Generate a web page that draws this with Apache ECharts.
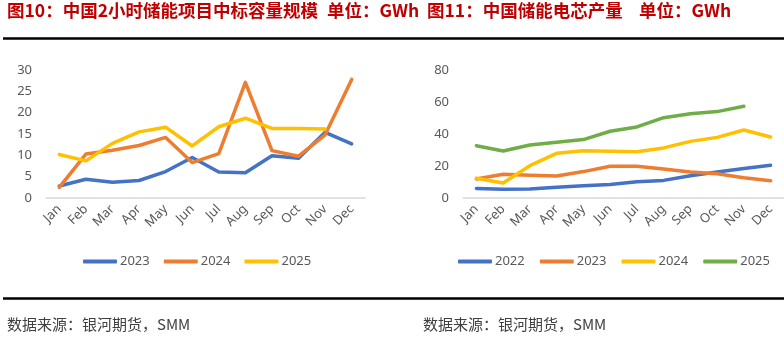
<!DOCTYPE html>
<html><head><meta charset="utf-8">
<script src="https://cdn.jsdelivr.net/npm/echarts@6/dist/echarts.min.js"></script>
<style>html,body{margin:0;padding:0;background:#fff}#c{width:784px;height:338px}</style>
</head><body><div id="c"></div>
<script>
// ---- data ----
const months = ['Jan','Feb','Mar','Apr','May','Jun','Jul','Aug','Sep','Oct','Nov','Dec'];
// 图10: 中国2小时储能项目中标容量规模 (GWh)
const bid2023 = [2.8, 4.4, 3.7, 4.1, 6.2, 9.5, 6.1, 5.9, 9.9, 9.3, 15.4, 12.7];
const bid2024 = [2.5, 10.3, 11.2, 12.3, 14.2, 8.3, 10.4, 27.1, 11.1, 9.8, 14.8, 27.8];
const bid2025 = [10.2, 8.7, 12.8, 15.5, 16.6, 12.2, 16.7, 18.7, 16.3, 16.3, 16.2, null];
const leftYTicks = [0, 30, 5];
// 图11: 中国储能电芯产量 (GWh)
const cell2022 = [6.0, 5.4, 5.6, 6.7, 7.7, 8.5, 10.2, 11.0, 13.9, 16.2, 18.5, 20.4];
const cell2023 = [11.9, 14.8, 14.2, 13.8, 16.5, 19.8, 19.8, 18.1, 16.3, 15.2, 12.7, 10.8];
const cell2024 = [12.3, 9.4, 20.2, 27.9, 29.6, 29.2, 28.9, 31.3, 35.4, 37.9, 42.5, 38.1];
const cell2025 = [32.7, 29.4, 33.1, 34.8, 36.5, 41.7, 44.4, 50.2, 52.7, 54.0, 57.3, null];
const rightYTicks = [0, 80, 20];
const leftTitle = '图10：中国2小时储能项目中标容量规模';
const rightTitle = '图11：中国储能电芯产量';
const unitText = '单位：GWh';
const sourceText = '数据来源：银河期货，SMM';

const C = {blue:'#4472C4', orange:'#ED7D31', yellow:'#FFC000', green:'#70AD47'};
const FONT = '"Noto Sans", "Noto Sans CJK SC", sans-serif';
const CJK = '"Noto Sans CJK SC", sans-serif';

function mkLine(name, data, color, idx) {
  return {name, type:'line', data, xAxisIndex:idx, yAxisIndex:idx, showSymbol:false, symbol:'none',
    connectNulls:false, lineStyle:{color, width:3.5, cap:'round', join:'round'}, itemStyle:{color}, z:3};
}
function xAx(gi){return {type:'category', gridIndex:gi, data:months, boundaryGap:true,
  axisLine:{lineStyle:{color:'#D9D9D9', width:1.5}}, axisTick:{show:false},
  axisLabel:{rotate:45, color:'#595959', fontSize:13, fontFamily:FONT, margin:9, interval:0}};}
function yAx(gi,t){return {type:'value', gridIndex:gi, min:t[0], max:t[1], interval:t[2],
  splitLine:{show:false}, axisLine:{show:false}, axisTick:{show:false},
  axisLabel:{color:'#595959', fontSize:13, fontFamily:FONT, margin:14}};}

const chart = echarts.init(document.getElementById('c'), null, {renderer:'canvas'});
const legText = {color:'#595959', fontSize:13, fontFamily:FONT, padding:[0,0,0,-2]};
const TF = 'bold 17.5px '+CJK;
chart.setOption({
  animation:false,
  grid:[{left:46, width:319, top:70, bottom:140}, {left:463, width:321, top:70, bottom:140}],
  xAxis:[xAx(0), xAx(1)],
  yAxis:[yAx(0,leftYTicks), yAx(1,rightYTicks)],
  legend:[
    {left:83, top:255, padding:0, itemGap:14, itemWidth:34, itemHeight:4, icon:'roundRect',
     data:['2023','2024','2025'], textStyle:legText},
    {left:458, top:255, padding:0, itemGap:15, itemWidth:34, itemHeight:4, icon:'roundRect',
     data:['R2022','R2023','R2024','R2025'], formatter:n=>n.replace('R',''), textStyle:legText}
  ],
  series:[
    mkLine('2023', bid2023, C.blue, 0),
    mkLine('2024', bid2024, C.orange, 0),
    mkLine('2025', bid2025, C.yellow, 0),
    mkLine('R2022', cell2022, C.blue, 1),
    mkLine('R2023', cell2023, C.orange, 1),
    mkLine('R2024', cell2024, C.yellow, 1),
    mkLine('R2025', cell2025, C.green, 1)
  ],
  graphic:[
    {type:'text', left:7, top:2, style:{text:leftTitle, fill:'#C00000', font:TF}},
    {type:'text', left:327, top:2, style:{text:unitText, fill:'#C00000', font:TF}},
    {type:'text', left:427, top:2, style:{text:rightTitle, fill:'#C00000', font:TF}},
    {type:'text', left:639, top:2, style:{text:unitText, fill:'#C00000', font:TF}},
    {type:'line', shape:{x1:3, y1:38.5, x2:784, y2:38.5}, style:{stroke:'#000', lineWidth:2.7}},
    {type:'line', shape:{x1:3, y1:298.5, x2:784, y2:298.5}, style:{stroke:'#000', lineWidth:2.7}},
    {type:'text', left:7, top:317, style:{text:sourceText, fill:'#404040', font:'15px '+CJK}},
    {type:'text', left:423, top:317, style:{text:sourceText, fill:'#404040', font:'15px '+CJK}}
  ]
});
</script></body></html>
